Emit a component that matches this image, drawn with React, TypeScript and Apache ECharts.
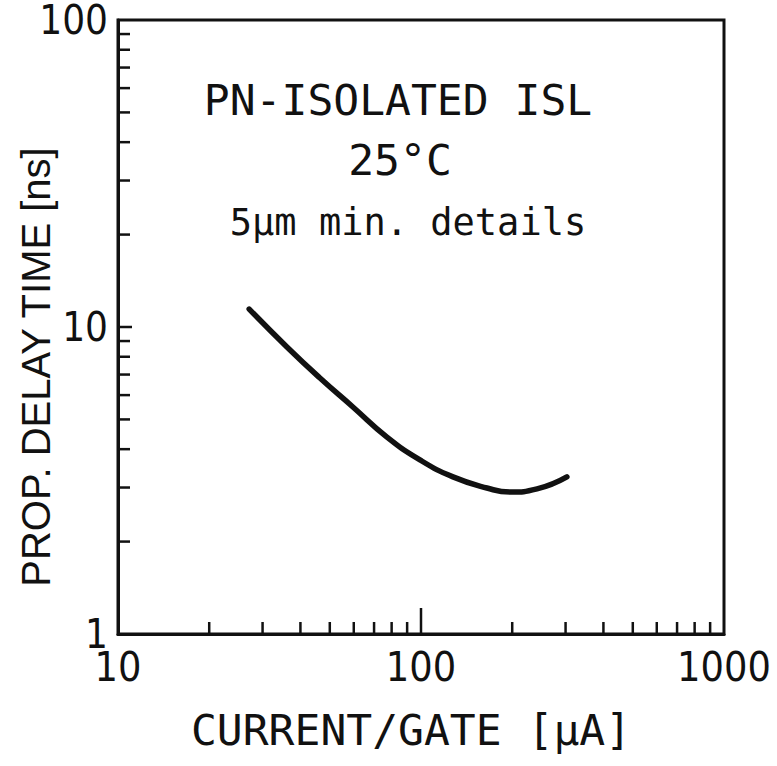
import React, { useEffect, useRef } from "react";
import * as echarts from "echarts";

const curveX = [27.1, 36.1, 46.4, 59.6, 77.2, 99.2, 127.5, 165, 196.7, 241.5, 303];
const curveY = [11.44, 8.61, 6.82, 5.49, 4.38, 3.69, 3.25, 2.99, 2.9, 2.97, 3.25];
const xMinorTicks = [20, 30, 40, 50, 60, 70, 80, 90, 200, 300, 400, 500, 600, 700, 800, 900];
const xMajorTicks = [100];
const yMinorTicks = [2, 3, 4, 5, 6, 7, 8, 9, 20, 30, 40, 50, 60, 70, 80, 90];
const yMajorTicks = [10];
const annotations = ["PN-ISOLATED ISL", "25°C", "5µm min. details"];
const xAxisTitle = "CURRENT/GATE [µA]";
const yAxisTitle = "PROP. DELAY TIME [ns]";

const NARROW = "Liberation Sans Narrow, DejaVu Sans Condensed, Liberation Sans, sans-serif";
const MONO = "DejaVu Sans Mono, Liberation Mono, monospace";
const SANS = "Liberation Sans, DejaVu Sans, sans-serif";

export default function App() {
  const ref = useRef<HTMLDivElement>(null);
  useEffect(() => {
    document.body.style.margin = "0";
    if (!ref.current) return;
    const chart = echarts.init(ref.current, null, { renderer: "svg" });
    const tickData: any[] = [];
    xMinorTicks.forEach((v) => tickData.push([v, 1, 0, 12]));
    xMajorTicks.forEach((v) => tickData.push([v, 1, 0, 26]));
    yMinorTicks.forEach((v) => tickData.push([10, v, 1, 12]));
    yMajorTicks.forEach((v) => tickData.push([10, v, 1, 14]));
    chart.setOption({
      animation: false,
      backgroundColor: "#fff",
      grid: {
        left: 118,
        right: 53,
        top: 20,
        bottom: 132,
        show: true,
        borderColor: "#111",
        borderWidth: 3,
        outerBoundsMode: "none",
        containLabel: false,
      },
      xAxis: {
        type: "log",
        logBase: 10,
        min: 10,
        max: 1000,
        axisLine: { lineStyle: { color: "#111", width: 3 } },
        axisTick: { show: false },
        splitLine: { show: false },
        minorTick: { show: false },
        axisLabel: {
          color: "#111",
          fontSize: 41,
          lineHeight: 30,
          fontFamily: NARROW,
          margin: 18,
          formatter: (v: number) => String(v),
        },
        name: xAxisTitle,
        nameLocation: "middle",
        nameGap: 74,
        nameTextStyle: { color: "#111", fontSize: 43, fontFamily: MONO, padding: [0, 20, 0, 0] },
      },
      yAxis: {
        type: "log",
        logBase: 10,
        min: 1,
        max: 100,
        axisLine: { lineStyle: { color: "#111", width: 3 } },
        axisTick: { show: false },
        splitLine: { show: false },
        axisLabel: {
          color: "#111",
          fontSize: 40,
          lineHeight: 30,
          fontFamily: NARROW,
          margin: 10,
          formatter: (v: number) => String(v),
        },
      },
      series: [
        {
          type: "line",
          data: curveX.map((x, i) => [x, curveY[i]]),
          smooth: true,
          showSymbol: false,
          lineStyle: { color: "#111", width: 5.5, cap: "round" },
        },
        {
          type: "custom",
          data: tickData,
          silent: true,
          renderItem: (params: any, api: any) => {
            const p = api.coord([api.value(0), api.value(1)]);
            const dir = api.value(2);
            const len = api.value(3);
            const shape =
              dir === 0
                ? { x1: p[0], y1: p[1], x2: p[0], y2: p[1] - len }
                : { x1: p[0], y1: p[1], x2: p[0] + len, y2: p[1] };
            return {
              type: "line",
              shape,
              style: { stroke: "#111", lineWidth: 2.5 },
            };
          },
        },
      ],
      graphic: [
        ...annotations.map((t, i) => ({
          type: "text",
          x: [398, 400, 408][i],
          y: [100, 160, 222][i],
          style: {
            text: t,
            fontSize: [43, 43, 37][i],
            fontFamily: MONO,
            fill: "#111",
            align: "center",
            verticalAlign: "middle",
          },
        })),
        {
          type: "text",
          x: 36,
          y: 367,
          rotation: Math.PI / 2,
          style: {
            text: yAxisTitle,
            fontSize: 40,
            fontFamily: SANS,
            fill: "#111",
            align: "center",
            verticalAlign: "middle",
          },
        },
      ],
    });
    return () => chart.dispose();
  }, []);
  return <div ref={ref} style={{ width: 777, height: 766 }} />;
}
